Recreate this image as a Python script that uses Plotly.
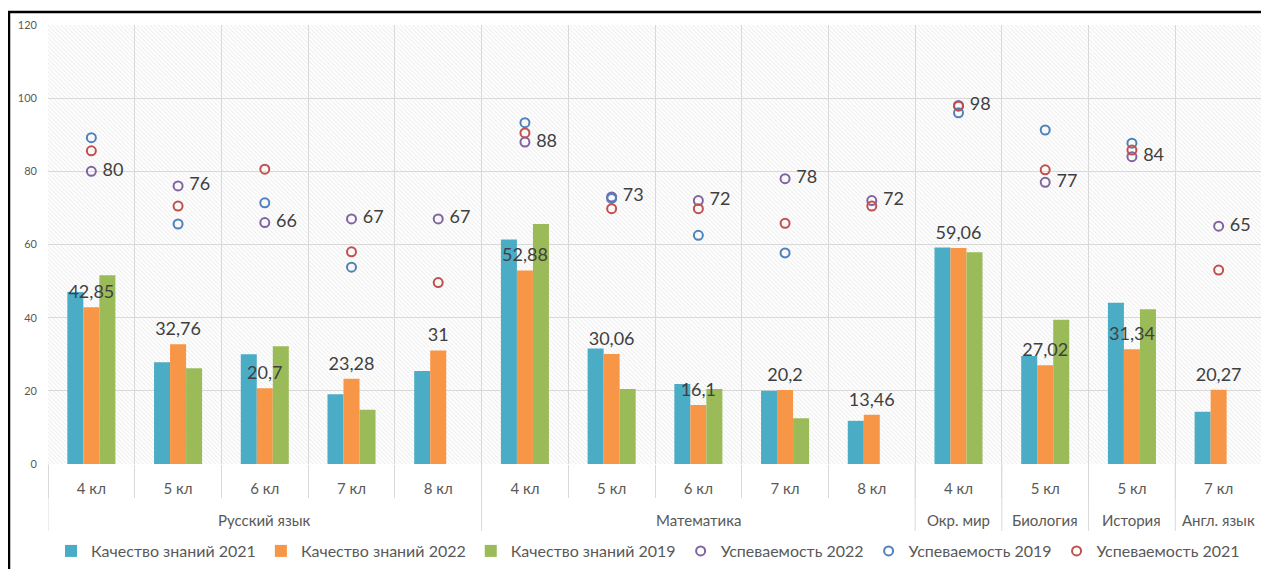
import plotly.graph_objects as go

subjects = ["Русский язык"] * 5 + ["Математика"] * 5 + ["Окр. мир", "Биология", "История", "Англ. язык"]
grades = ["4 кл", "5 кл", "6 кл", "7 кл", "8 кл", "4 кл", "5 кл", "6 кл", "7 кл", "8 кл", "4 кл", "5 кл", "5 кл", "7 кл"]

q2021 = [47.0, 27.8, 30.0, 19.1, 25.4, 61.4, 31.6, 21.9, 20.0, 11.8, 59.2, 29.5, 44.1, 14.3]
q2022 = [42.85, 32.76, 20.7, 23.28, 31, 52.88, 30.06, 16.1, 20.2, 13.46, 59.06, 27.02, 31.34, 20.27]
q2019 = [51.6, 26.2, 32.2, 14.8, None, 65.6, 20.5, 20.5, 12.5, None, 57.9, 39.4, 42.3, None]
u2022 = [80, 76, 66, 67, 67, 88, 73, 72, 78, 72, 98, 77, 84, 65]
u2019 = [89.2, 65.6, 71.4, 53.8, None, 93.3, 72.6, 62.5, 57.7, None, 96.0, 91.3, 87.7, None]
u2021 = [85.6, 70.5, 80.6, 58.0, 49.6, 90.5, 69.8, 69.8, 65.8, 70.5, 97.8, 80.4, 85.8, 53.0]

y_ticks = [0, 20, 40, 60, 80, 100, 120]

def fmt(v):
    return ("%g" % v).replace(".", ",")

FONT = "Lato"
TXT = "#595959"
LBL = "#404040"
GRID = "#d9d9d9"

pos = list(range(len(grades)))
bounds = [p - 0.5 for p in pos] + [pos[-1] + 0.5]

# subject groups (contiguous runs)
groups = []
for i, s in enumerate(subjects):
    if groups and groups[-1][0] == s:
        groups[-1][2] = i
    else:
        groups.append([s, i, i])

# the page body has an 8px margin: the figure starts at screen (8, 8)
OFF = 8
SW, SH = 1269, 569
W, H = SW - OFF, SH - OFF
# plot area in screen pixels: x 48..1262, y 25..464
PL, PR, PT, PB = 48, 1262, 25, 464
L, R, T, B = PL - OFF, W - (PR - OFF), PT - OFF, H - (PB - OFF)
pw, ph = PR - PL, PB - PT

def px_x(p):
    return (p - PL) / pw

def px_y(p):
    return (PB - p) / ph

fig = go.Figure()

# hatched plot-area background (hidden primary x axis, drawn beneath data)
fig.add_trace(go.Bar(
    x=[0.5], y=[y_ticks[-1]], width=[1], xaxis="x", yaxis="y",
    marker=dict(color="rgba(0,0,0,0)", line=dict(width=0),
                pattern=dict(shape="\\", fgcolor="#d6d6d6", bgcolor="rgba(0,0,0,0)",
                             size=3, solidity=0.3)),
    showlegend=False, hoverinfo="skip",
))

bar_specs = [
    ("Качество знаний 2021", q2021, "#4bacc6"),
    ("Качество знаний 2022", q2022, "#f79646"),
    ("Качество знаний 2019", q2019, "#9bbb59"),
]
for name, vals, col in bar_specs:
    fig.add_trace(go.Bar(
        x=pos, y=vals, name=name, xaxis="x2", yaxis="y",
        marker=dict(color=col, line=dict(width=0)),
    ))

# labels above the 2022 bars (centre bar of each group)
fig.add_trace(go.Scatter(
    x=pos, y=q2022, xaxis="x2", yaxis="y", mode="markers+text",
    marker=dict(size=6, color="rgba(0,0,0,0)"),
    text=[fmt(v) for v in q2022], textposition="top center",
    textfont=dict(family=FONT, size=18, color=LBL),
    showlegend=False, hoverinfo="skip", cliponaxis=False,
))

pt_specs = [
    ("Успеваемость 2022", u2022, "#8064a2", True),
    ("Успеваемость 2019", u2019, "#4f81bd", False),
    ("Успеваемость 2021", u2021, "#c0504d", False),
]
for name, vals, col, lab in pt_specs:
    fig.add_trace(go.Scatter(
        x=pos, y=vals, name=name, xaxis="x2", yaxis="y",
        mode="markers+text" if lab else "markers",
        marker=dict(symbol="circle-open", size=9, color=col, line=dict(width=2, color=col)),
        text=["\u00a0" + fmt(v) for v in vals] if lab else None,
        textposition="middle right",
        textfont=dict(family=FONT, size=18, color=LBL),
        cliponaxis=False,
    ))

# subject labels and group dividers below the axis
for s, i0, i1 in groups:
    fig.add_annotation(x=(pos[i0] + pos[i1]) / 2, xref="x2", y=px_y(520), yref="paper",
                       text=s, showarrow=False, yanchor="middle",
                       font=dict(family=FONT, size=15, color=TXT))
div_x = sorted(set([bounds[g[1]] for g in groups] + [bounds[g[2] + 1] for g in groups]))
for bx in div_x:
    fig.add_shape(type="line", xref="x2", yref="paper", x0=bx, x1=bx,
                  y0=0, y1=px_y(531), line=dict(color=GRID, width=1))

# outer black frame of the picture
fig.add_shape(type="rect", xref="paper", yref="paper",
              x0=px_x(9), x1=px_x(SW + 10), y0=px_y(SH + 10), y1=px_y(12),
              line=dict(color="black", width=2.5), fillcolor="rgba(0,0,0,0)", layer="above")

fig.update_layout(
    width=W, height=H,
    margin=dict(l=L, r=R, t=T, b=B, autoexpand=False),
    paper_bgcolor="white", plot_bgcolor="white",
    barmode="group", bargap=0.446, bargroupgap=0,
    font=dict(family=FONT, size=15, color=TXT),
    xaxis=dict(range=[0, 1], visible=False, fixedrange=True),
    xaxis2=dict(
        overlaying="x", side="bottom", range=[bounds[0], bounds[-1]],
        tickvals=pos, ticktext=grades, showgrid=False, ticks="",
        ticklabelstandoff=14, zeroline=False, showline=False,
        tickfont=dict(family=FONT, size=15, color=TXT),
        minor=dict(tickvals=bounds, showgrid=True, gridcolor=GRID, gridwidth=1,
                   ticks="outside", ticklen=33, tickcolor=GRID, tickwidth=1),
    ),
    yaxis=dict(
        range=[0, 120], tickvals=y_ticks, showgrid=True, gridcolor=GRID, gridwidth=1,
        zeroline=False, showline=False, ticks="", ticklabelstandoff=10,
        tickfont=dict(family=FONT, size=11, color=TXT),
    ),
    legend=dict(orientation="h", x=px_x(648), xanchor="center", y=px_y(551), yanchor="middle",
                font=dict(family=FONT, size=16, color=TXT), itemwidth=30,
                traceorder="normal"),
    showlegend=True,
)

fig.write_html("out.html")
